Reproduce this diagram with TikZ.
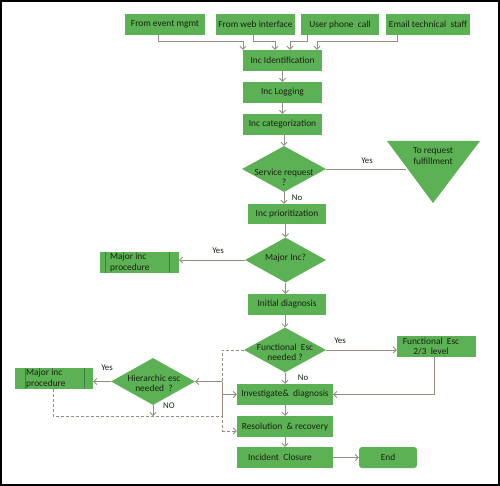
\documentclass[tikz,border=0pt]{standalone}
\usepackage{fontspec}
\setmainfont{Carlito}
\usetikzlibrary{arrows.meta,shapes.geometric,calc}
\definecolor{boxgreen}{RGB}{92,177,84}
\definecolor{linegray}{RGB}{150,140,125}
\definecolor{midgreen}{RGB}{60,130,60}
\definecolor{txt}{RGB}{25,35,20}
\begin{document}
\begin{tikzpicture}[x=1pt,y=-1pt,
  every node/.style={font=\fontsize{9.4}{10.4}\selectfont, text=txt},
  box/.style={fill=boxgreen, minimum height=21pt, inner sep=0pt, align=center},
  dia/.style={diamond, fill=boxgreen, inner sep=0pt},
  conn/.style={draw=linegray, line width=0.8pt, -{Straight Barb[length=3pt,width=6pt]}},
  plainln/.style={draw=linegray, line width=0.8pt},
  dashln/.style={draw=linegray, line width=0.8pt, dash pattern=on 3pt off 2pt},
  lbl/.style={font=\fontsize{8.8}{9}\selectfont, inner sep=0pt},
  midln/.style={draw=midgreen, line width=0.5pt}
]
\useasboundingbox (0,0) rectangle (500,486);
\fill[white] (0,0) rectangle (500,486);
\draw[line width=1.5pt] (1,1) rectangle (499,485);

% top sources
\node[box, minimum width=80pt] (ev) at (165,24.5) {From event mgmt};
\node[box, minimum width=79pt] (web) at (255.5,24.5) {From web interface};
\node[box, minimum width=78pt] (phone) at (340,24.5) {User phone\ \ call};
\node[box, minimum width=84pt] (email) at (428,24.5) {Email technical\ \ staff};

% main column
\node[box, minimum width=79pt] (ident) at (282.5,60.5) {Inc Identification};
\node[box, minimum width=79pt] (log) at (282.5,92.5) {Inc Logging};
\node[box, minimum width=79pt] (cat) at (282.5,124.5) {Inc categorization};

\node[dia, minimum width=84pt, minimum height=46pt] (svc) at (284,169) {};
\node[align=center, inner sep=0pt] (svct) at (284,177) {Service request\\?};

% triangle
\coordinate (triL) at (387,141);
\coordinate (triR) at (480,141);
\coordinate (triB) at (433,203);
\fill[boxgreen] (triL) -- (triR) -- (triB) -- cycle;
\coordinate (triE) at ($(triL)!0.42!(triB)$);
\node[align=center, inner sep=0pt] (trit) at (433,156) {To request\\fulfillment};

\node[box, minimum width=78pt, minimum height=20pt] (prio) at (287,214) {Inc prioritization};

\node[dia, minimum width=81pt, minimum height=45pt] (major) at (285.5,260) {};
\node[inner sep=0pt] (majort) at (285.5,258) {Major\ Inc?};

\node[box, minimum width=79pt] (mip1) at (139.5,262.5) {};
\draw[midln] ([xshift=5pt]mip1.north west) -- ([xshift=5pt]mip1.south west);
\draw[midln] ([xshift=-10pt]mip1.north east) -- ([xshift=-10pt]mip1.south east);
\node[anchor=west, align=left, inner sep=0pt] (mip1t) at (110,262.5) {Major inc\\procedure};

\node[box, minimum width=78pt] (init) at (287,304.5) {Initial diagnosis};

\node[dia, minimum width=82pt, minimum height=45pt] (func) at (285,350) {};
\node[align=center, inner sep=0pt] (funct) at (285,352.5) {Functional\ \ Esc\\needed\ ?};

\node[box, minimum width=79pt] (fe23) at (436.5,346.5) {};
\node[align=center, inner sep=0pt] (fe23t) at (431,346.5) {Functional\ \ Esc\\2/3\ \ level};

\node[box, minimum width=96pt] (inv) at (285,394.5) {Investigate\&\ \ diagnosis};
\node[box, minimum width=96pt] (res) at (285,426.5) {Resolution\ \ \&\ recovery};
\node[box, minimum width=96pt] (clo) at (285,457.5) {\hspace*{-10pt}Incident\ \ Closure};
\node[box, minimum width=58pt, rounded corners=3pt] (end) at (388,457.5) {End};

\node[dia, minimum width=84pt, minimum height=47pt] (hier) at (153,381.5) {};
\node[align=center, inner sep=0pt] (hiert) at (154,383) {Hierarchic esc\\needed\ \ ?};

\node[box, minimum width=78pt] (mip2) at (54,378.5) {};
\draw[midln] ([xshift=10pt]mip2.north west) -- ([xshift=10pt]mip2.south west);
\draw[midln] ([xshift=-9pt]mip2.north east) -- ([xshift=-9pt]mip2.south east);
\node[anchor=west, align=left, inner sep=0pt] (mip2t) at (26,378.5) {Major inc\\procedure};

% labels
\node[lbl] (yes1) at (367,161) {Yes};
\node[lbl] (no1) at (297,198) {No};
\node[lbl] (yes2) at (218,251) {Yes};
\node[lbl] (yes3) at (340,341) {Yes};
\node[lbl] (no2) at (303,378) {No};
\node[lbl] (yes4) at (107,368) {Yes};
\node[lbl] (no3) at (169,406) {NO};

% top connectors
\draw[conn] ([xshift=-7pt]ev.south) -- ++(0,6) -| ([xshift=-39.5pt]ident.north);
\draw[conn] ([xshift=-2.5pt]web.south) -- ++(0,6) -| ([xshift=-7.5pt]ident.north);
\draw[conn] ([xshift=-33pt]phone.south) -- ++(0,6) -| ([xshift=7.5pt]ident.north);
\draw[conn] ([xshift=-31pt]email.south) -- ++(0,6) -| ([xshift=34.5pt]ident.north);

% main flow
\draw[conn] (ident.south) -- (log.north);
\draw[conn] (log.south) -- (cat.north);
\draw[conn] (cat.south -| svc.north) -- (svc.north);
\draw[plainln] (svc.east) -- (svc.east -| triE);
\draw[conn] (svc.south) -- (svc.south |- prio.north);
\draw[conn] (major.north |- prio.south) -- (major.north);
\draw[conn] (major.west) -- (major.west -| mip1.east);
\draw[conn] (major.south) -- (major.south |- init.north);
\draw[conn] (func.north |- init.south) -- (func.north);
\draw[conn] (func.east) -- (func.east -| fe23.west);
\draw[conn] ([xshift=-2.5pt]fe23.south) |- (inv.east);
\draw[conn] (func.south) -- (func.south |- inv.north);
\draw[conn] (inv.south) -- (res.north);
\draw[conn] (res.south) -- (clo.north);
\draw[conn] (clo.east) -- (end.west);

% left side
\coordinate (colx) at (222,0);
\coordinate (dashY) at (0,416);
\coordinate (jA) at (hier.east -| colx);
\coordinate (jB) at (dashY -| colx);
\coordinate (jC) at (222,431);
\draw[conn] (hier.west) -- (hier.west -| mip2.east);
\draw[conn] (hier.south) -- (hier.south |- dashY);
\draw[dashln] (func.west) -| (jA);
\draw[conn] (jA) -- (hier.east);
\draw[plainln] (jA) -- (jB);
\draw[conn] (jA |- inv.west) -- (inv.west);
\draw[dashln] ([xshift=-1pt]mip2.south) |- (jB) -- (jC);
\draw[dashln, -{Straight Barb[length=3pt,width=6pt]}] (jC) -- (jC -| res.west);
\end{tikzpicture}
\end{document}
